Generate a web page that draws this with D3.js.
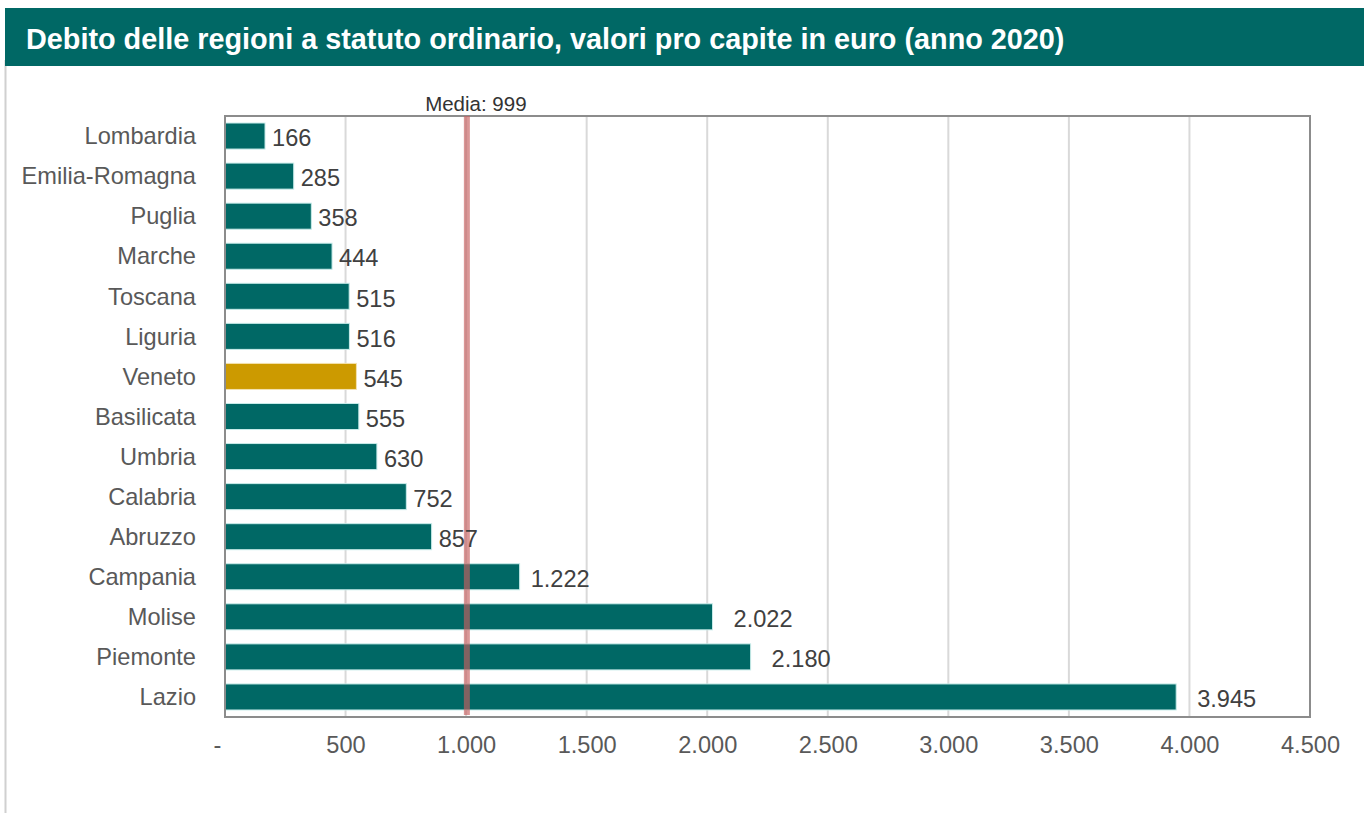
<!DOCTYPE html>
<html><head><meta charset="utf-8">
<script src="https://cdn.jsdelivr.net/npm/d3@7"></script>
<style>
html,body{margin:0;padding:0;background:#fff;}
svg{display:block;font-family:"Liberation Sans",Arial,sans-serif;}
</style></head>
<body>
<svg id="c" width="1364" height="813"></svg>
<script>
const title = "Debito delle regioni a statuto ordinario, valori pro capite in euro (anno 2020)";
const regions = ["Lombardia","Emilia-Romagna","Puglia","Marche","Toscana","Liguria","Veneto","Basilicata","Umbria","Calabria","Abruzzo","Campania","Molise","Piemonte","Lazio"];
const values = [166,285,358,444,515,516,545,555,630,752,857,1222,2022,2180,3945];
const highlight = ["Veneto"];
const mediaValue = 999;
const mediaLabel = "Media: 999";
const xTicks = [0,500,1000,1500,2000,2500,3000,3500,4000,4500];

const svg = d3.select("#c");
const fmt = v => v === 0 ? "-" : d3.formatLocale({decimal:",",thousands:".",grouping:[3],currency:["","€"]}).format(",")(v);

// left border
svg.append("line").attr("x1",5.5).attr("x2",5.5).attr("y1",60).attr("y2",813)
  .attr("stroke","#d0d0d0").attr("stroke-width",2);
// header band
svg.append("rect").attr("x",5).attr("y",8).attr("width",1359).attr("height",58).attr("fill","#006865");
svg.append("text").attr("x",26).attr("y",49).attr("fill","#fff")
  .attr("font-weight","bold").attr("font-size",28.8).text(title);

const L=225, R=1310, T=116, B=717;
const x = d3.scaleLinear().domain([0,4500]).range([L,R]);
const y = d3.scaleBand().domain(regions).range([T,B]).paddingInner(0.35).paddingOuter(0.175);

// gridlines
svg.append("g").selectAll("line").data(xTicks.slice(1,-1)).join("line")
  .attr("x1",d=>x(d)).attr("x2",d=>x(d)).attr("y1",T).attr("y2",B)
  .attr("stroke","#d9d9d9").attr("stroke-width",2);

// bars
svg.append("g").selectAll("rect").data(regions).join("rect")
  .attr("x",x(0)).attr("y",d=>y(d)).attr("height",y.bandwidth())
  .attr("width",(d,i)=>x(values[i])-x(0))
  .attr("fill",d=>highlight.includes(d)?"#cc9a00":"#006865")
  .attr("stroke",d=>highlight.includes(d)?"#f3e2b0":"#c8ecea").attr("stroke-width",1);

// frame
svg.append("rect").attr("x",L).attr("y",T).attr("width",R-L).attr("height",B-T)
  .attr("fill","none").attr("stroke","#8c8c8c").attr("stroke-width",2);

// media line
svg.append("line").attr("x1",x(mediaValue)+1).attr("x2",x(mediaValue)+1).attr("y1",T).attr("y2",B-2)
  .attr("stroke","rgb(198,95,95)").attr("stroke-opacity",0.65).attr("stroke-width",6);
svg.append("text").attr("x",x(mediaValue)+10).attr("y",111).attr("text-anchor","middle")
  .attr("font-size",20.5).attr("fill","#333").text(mediaLabel);

// category labels
svg.append("g").selectAll("text").data(regions).join("text")
  .attr("x",196).attr("y",d=>y(d)+y.bandwidth()/2).attr("dy","0.35em")
  .attr("text-anchor","end").attr("font-size",23.6).attr("fill","#595959").text(d=>d);

// value labels
svg.append("g").selectAll("text").data(regions).join("text")
  .attr("x",(d,i)=>x(values[i])+(values[i]>1500?21:values[i]>1000?11:7))
  .attr("y",d=>y(d)+y.bandwidth()/2+2).attr("dy","0.35em")
  .attr("font-size",23.6).attr("fill","#404040").text((d,i)=>fmt(values[i]));

// x axis labels
const xa = d3.axisBottom(x).tickValues(xTicks).tickFormat(fmt).tickSize(0).tickPadding(19);
const gx = svg.append("g").attr("transform",`translate(0,${B})`).call(xa);
gx.select(".domain").remove();
gx.selectAll("text").attr("font-size",23.6).attr("fill","#595959").attr("font-family","Liberation Sans, Arial, sans-serif");
gx.selectAll(".tick").filter(d=>d===0).select("text").attr("dx",-8);
</script>
</body></html>
